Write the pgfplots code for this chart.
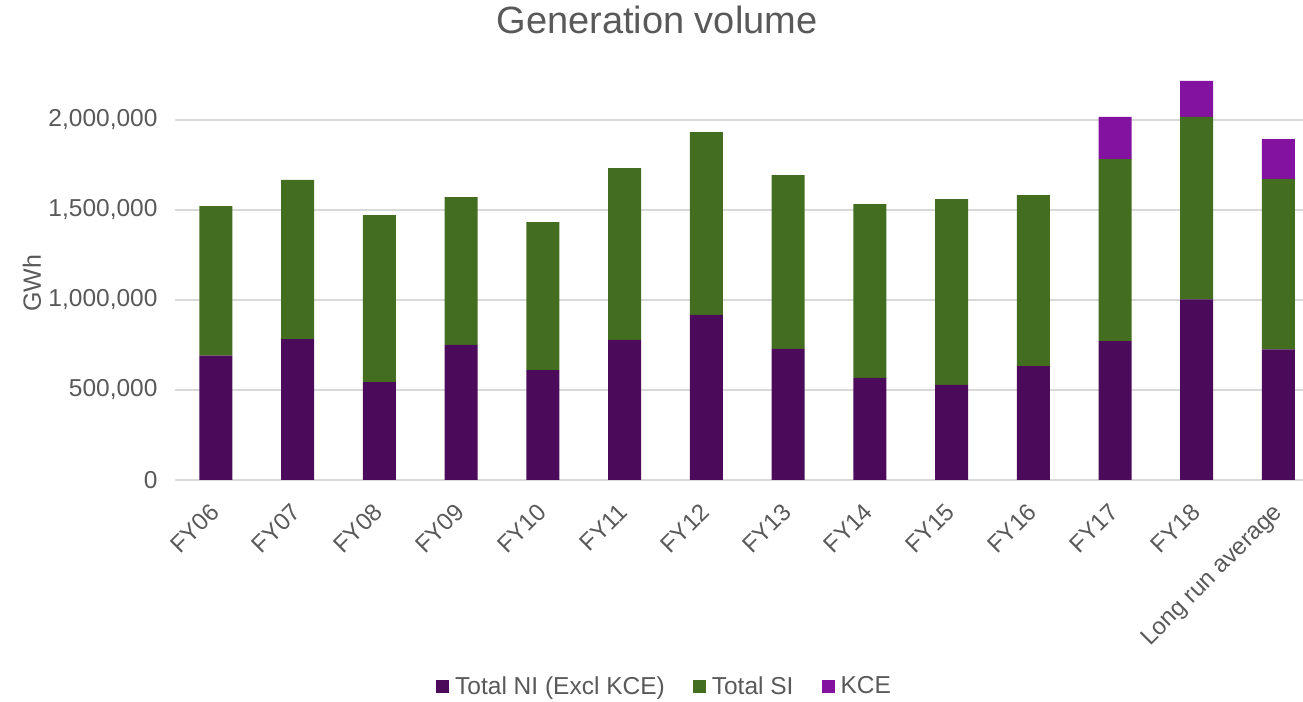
\documentclass[border=0pt]{standalone}
\usepackage{pgfplots}
\pgfplotsset{compat=1.18}
\usepackage{pgfplotstable}
\usepackage{fontspec}
\setmainfont{Liberation Sans}
\definecolor{ni}{HTML}{4C0B5A}
\definecolor{si}{HTML}{436E1F}
\definecolor{kce}{HTML}{8312A0}
\definecolor{txt}{HTML}{595959}
\definecolor{grd}{HTML}{D9D9D9}
\pgfplotstableread{
x ni si kce
0 691000 831000 0
1 782000 885000 0
2 544000 928000 0
3 750000 822000 0
4 611000 822000 0
5 778000 955000 0
6 917000 1016000 0
7 728000 966000 0
8 567000 966000 0
9 528000 1033000 0
10 633000 950000 0
11 772000 1010000 236000
12 1004000 1014000 199000
13 726000 946000 222000
}\datatable
\begin{document}
\begin{tikzpicture}
\begin{axis}[
  at={(175pt,221pt)}, anchor=south west,
  scale only axis, width=1128pt, height=405pt,
  ybar stacked, bar width=33pt,
  xmin=-0.5, xmax=13.3, ymin=0, ymax=2250000,
  xtick=data,
  xticklabels={FY06,FY07,FY08,FY09,FY10,FY11,FY12,FY13,FY14,FY15,FY16,FY17,FY18,Long run average},
  ytick={0,500000,1000000,1500000,2000000},
  scaled y ticks=false,
  /pgf/number format/fixed,
  /pgf/number format/1000 sep={,},
  /pgf/number format/assume math mode=true,
  tick label style={font=\fontsize{24.5}{28}\selectfont, text=txt},
  xticklabel style={font=\fontsize{24}{28}\selectfont, rotate=45, anchor=north east, xshift=-17pt, yshift=-7pt},
  yticklabel style={xshift=-14pt},
  major tick length=0pt,
  axis line style={draw=none},
  ymajorgrids, grid style={grd, line width=1.4pt},
  clip=false,
  legend columns=3,
  legend style={at={(0.434,-0.509)}, anchor=center, draw=none, fill=none,
    font=\fontsize{24.5}{28}\selectfont, text=txt,
    /tikz/every odd column/.append style={column sep=4pt},
    /tikz/every even column/.append style={column sep=26pt}},
  legend image code/.code={\fill[#1] (0pt,-7pt) rectangle (13pt,6pt);},
]
\addplot[fill=ni, draw=none] table[x=x, y=ni] {\datatable};
\addplot[fill=si, draw=none] table[x=x, y=si] {\datatable};
\addplot[fill=kce, draw=none] table[x=x, y=kce] {\datatable};
\legend{Total NI (Excl KCE), Total SI, KCE}
\end{axis}
\node[text=txt, font=\fontsize{38}{44}\selectfont] at (657pt,681pt) {Generation volume};
\node[text=txt, font=\fontsize{25}{30}\selectfont, rotate=90] at (32pt,418pt) {GWh};
\pgfresetboundingbox
\path (0pt,0pt) rectangle (1303pt,701pt);
\end{tikzpicture}
\end{document}
